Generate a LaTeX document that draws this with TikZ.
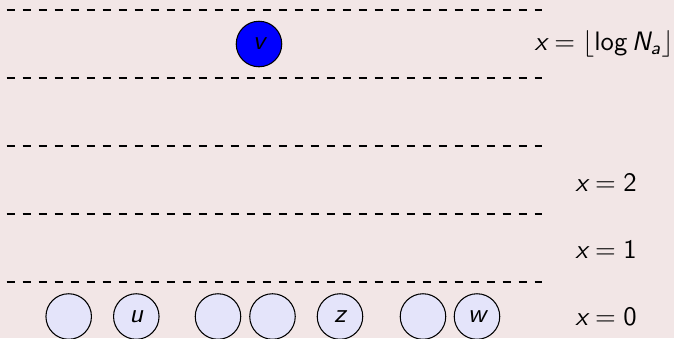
\documentclass[tikz,border=0pt]{standalone}
\usepackage{amsmath}
\definecolor{bgcol}{RGB}{242,230,230}
\definecolor{nodefill}{RGB}{228,228,250}
\newcommand{\mv}[1]{\text{\sffamily\itshape #1}}
\begin{document}
\begin{tikzpicture}[x=0.375pt,y=-0.375pt,
  every node/.style={font=\sffamily\fontsize{10}{12}\selectfont},
  vert/.style={circle,draw=black,fill=nodefill,minimum size=0.6cm,inner sep=0pt},
  hot/.style={vert,fill=blue},
  level/.style={draw=black,dash pattern=on 3pt off 3pt},
  lab/.style={anchor=center}]
\fill[bgcol] (0,0) rectangle (674,338);
\useasboundingbox (0,0) rectangle (674,338);
% level lines
\foreach \yy [count=\i] in {10,78,146,214,282} {
  \coordinate (l\i a) at (6.7,\yy);
  \coordinate (l\i b) at (542,\yy);
  \draw[level] (l\i a) -- (l\i b);
}
% top vertex
\node[hot] (v) at (259,44) {$\mv{v}$};
% bottom vertices
\node[vert] (b1) at (68.7,316.5) {};
\node[vert] (u) at (136.3,316.5) {$\mv{u}$};
\node[vert] (b3) at (218,316.5) {};
\node[vert] (b4) at (272.5,316.5) {};
\node[vert] (z) at (340,316.5) {$\mv{z}$};
\node[vert] (b6) at (423,316.5) {};
\node[vert] (w) at (477,316.5) {$\mv{w}$};
% labels
\node[lab] (t) at (604,44) {$\mv{x} = \lfloor \text{\sffamily log}\, \mv{N}_{\mv{a}} \rfloor$};
\node[lab] (x2) at (606,182) {$\mv{x} = \text{\sffamily 2}$};
\node[lab] (x1) at (606,249) {$\mv{x} = \text{\sffamily 1}$};
\node[lab] (x0) at (606,317) {$\mv{x} = \text{\sffamily 0}$};
\end{tikzpicture}
\end{document}
